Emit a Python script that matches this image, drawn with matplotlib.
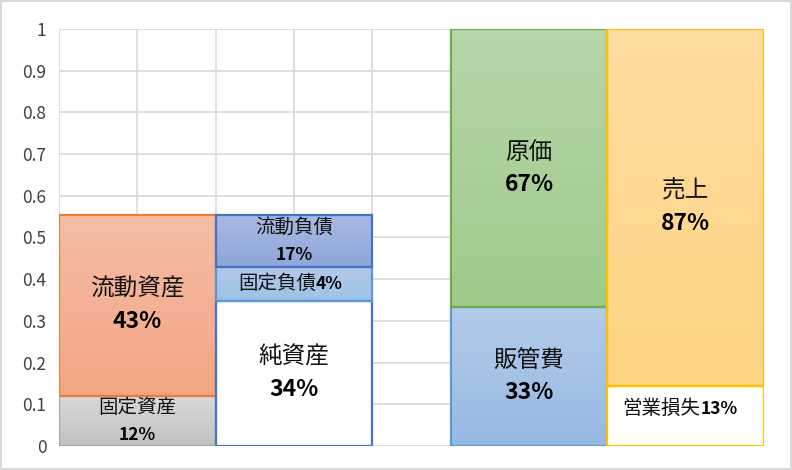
import numpy as np
import matplotlib.pyplot as plt
import matplotlib.colors as mcolors
from matplotlib.ticker import FuncFormatter, MultipleLocator

plt.rcParams['font.family'] = ['Noto Sans CJK JP', 'DejaVu Sans']

# データ（比率）
names = ['固定資産', '流動資産', '純資産', '固定負債', '流動負債', '販管費', '原価', '営業損失', '売上']
pct_labels = ['12%', '43%', '34%', '4%', '17%', '33%', '67%', '13%', '87%']
heights = [0.12, 0.435, 0.348, 0.082, 0.125, 0.333, 0.667, 0.145, 0.855]
column = [0, 0, 1, 1, 1, 2, 2, 3, 3]

# 見た目
col_x = [1, 3, 6, 8]
top_col = ['#d9d9d9', '#f5bda6', None, '#b5c8ea', '#aab9e2', '#b4cbea', '#b7d6a9', None, '#fedca0']
bot_col = ['#c2c2c2', '#f4a583', None, '#9dc3e6', '#8fa6d9', '#96b9e3', '#9fca8a', None, '#fed584']
edge_col = ['#a5a5a5', '#ed7d31', '#4472c4', '#5b9bd5', '#4472c4', '#5b9bd5', '#70ad47', '#ffc000', '#ffc000']
# ラベル配置: 'two' = 2行, 'two_small' = 2行(小), 'inline' = 1行
label_mode = ['two_small', 'two', 'two', 'inline', 'two_small', 'two', 'two', 'inline', 'two']

fig = plt.figure(figsize=(7.92, 4.70), dpi=100)
fig.patch.set_edgecolor('#d9d9d9')
fig.patch.set_linewidth(1.5)
ax = fig.add_axes([59 / 792, 24 / 470, 705 / 792, 417 / 470])

ax.set_xlim(0, 9)
ax.set_ylim(0, 1)
ax.xaxis.set_major_locator(MultipleLocator(1))
ax.yaxis.set_major_locator(MultipleLocator(0.1))
ax.yaxis.set_major_formatter(FuncFormatter(lambda v, p: f'{v:.1f}'.rstrip('0').rstrip('.') if v else '0'))
ax.grid(True, color='#d9d9d9', linewidth=1.2)
ax.set_axisbelow(True)
ax.tick_params(axis='x', length=0, labelbottom=False)
ax.tick_params(axis='y', length=0, pad=9, labelsize=12.5, labelcolor='#404040')
for s in ax.spines.values():
    s.set_visible(False)

bottoms = {}
for i, h in enumerate(heights):
    c = column[i]
    b = bottoms.get(c, 0.0)
    bottoms[c] = b + h
    x = col_x[c]
    face = 'white' if top_col[i] is None else 'none'
    bar = ax.bar(x, h, width=2, bottom=b, color=face, edgecolor=edge_col[i],
                 linewidth=1.6, zorder=3)[0]
    if top_col[i] is not None:
        cmap = mcolors.LinearSegmentedColormap.from_list('g', [bot_col[i], top_col[i]])
        grad = np.linspace(0, 1, 64).reshape(-1, 1)
        im = ax.imshow(grad, cmap=cmap, aspect='auto', origin='lower',
                       extent=(x - 1, x + 1, b, b + h), zorder=2)
        im.set_clip_path(bar)
    cy = b + h / 2
    mode = label_mode[i]
    if mode == 'two':
        ax.annotate(names[i], (x, cy), xytext=(0, 16), textcoords='offset pixels',
                    ha='center', va='center', fontsize=17, color='#111111', zorder=5)
        ax.annotate(pct_labels[i], (x, cy), xytext=(0, -16), textcoords='offset pixels',
                    ha='center', va='center', fontsize=16.5, fontweight='bold', zorder=5)
    elif mode == 'two_small':
        ax.annotate(names[i], (x, cy), xytext=(0, 13), textcoords='offset pixels',
                    ha='center', va='center', fontsize=14, color='#111111', zorder=5)
        ax.annotate(pct_labels[i], (x, cy), xytext=(0, -14), textcoords='offset pixels',
                    ha='center', va='center', fontsize=12.5, fontweight='bold', zorder=5)
    else:
        dy = 0 if names[i] == '固定負債' else 7
        dx = 22 if names[i] == '固定負債' else 15
        ax.annotate(names[i], (x, cy), xytext=(dx, dy), textcoords='offset pixels',
                    ha='right', va='center', fontsize=14, color='#111111', zorder=5)
        ax.annotate(pct_labels[i], (x, cy), xytext=(dx, dy), textcoords='offset pixels',
                    ha='left', va='center', fontsize=12.5, fontweight='bold', zorder=5)

fig.savefig('out.png', dpi=100, edgecolor=fig.get_edgecolor())
